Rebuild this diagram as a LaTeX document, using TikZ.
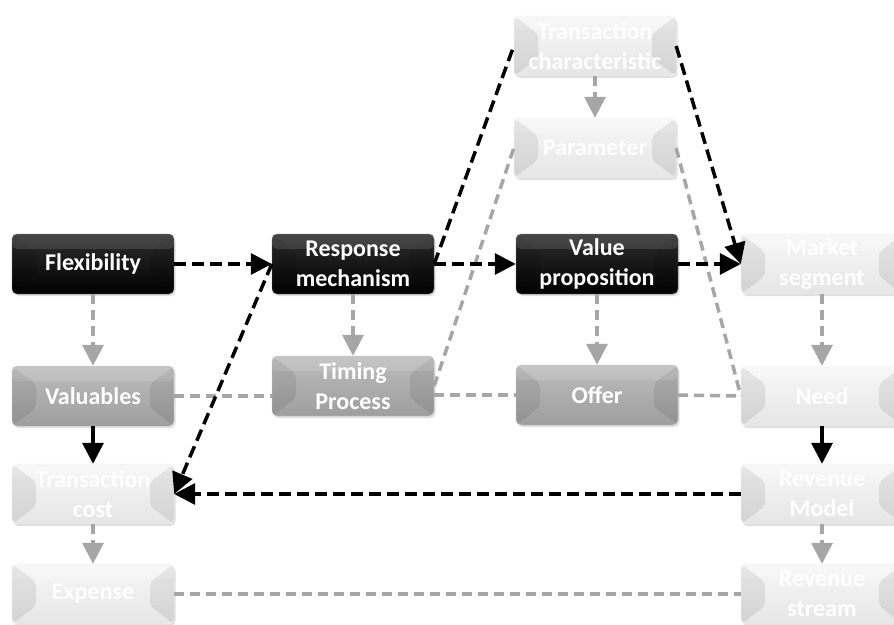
\documentclass[tikz,border=0pt]{standalone}
\usepackage{fontspec}
\setmainfont{Carlito}
\usetikzlibrary{arrows.meta,shadows}

\begin{document}
\begin{tikzpicture}[x=1pt,y=-1pt,>={Triangle[length=21pt,width=21pt]},
  box/.style={rounded corners=5pt,minimum width=162pt,minimum height=60pt,inner sep=0pt,
    align=center,text=white,font=\fontsize{24}{30}\selectfont\bfseries,
    drop shadow={opacity=0.25,shadow xshift=1.5pt,shadow yshift=-2pt},
    path picture={
      \fill[black,opacity=0.08] (path picture bounding box.north west)
        -- ([xshift=24pt,yshift=-18pt]path picture bounding box.north west)
        -- ([xshift=24pt,yshift=18pt]path picture bounding box.south west)
        -- (path picture bounding box.south west) -- cycle;
      \fill[black,opacity=0.08] (path picture bounding box.north east)
        -- ([xshift=-24pt,yshift=-18pt]path picture bounding box.north east)
        -- ([xshift=-24pt,yshift=18pt]path picture bounding box.south east)
        -- (path picture bounding box.south east) -- cycle;
      \fill[white,opacity=0.12] (path picture bounding box.north west)
        rectangle ([yshift=-15pt]path picture bounding box.north east);}},
  dark/.style={box,top color=black!82,bottom color=black,draw=black!55},
  mid/.style={box,top color=black!26,bottom color=black!38,draw=black!20},
  pale/.style={box,top color=black!3,bottom color=black!10,draw=black!5},
  blk/.style={black,line width=3.5pt,dash pattern=on 12pt off 6pt},
  gry/.style={black!35,line width=3.5pt,dash pattern=on 10pt off 6pt}]
  \clip (0,0) rectangle (894,624);
  \fill[white] (0,0) rectangle (894,624);

  % top row
  \node[pale] (tchar) at (595,46) {Transaction\\characteristic};
  \node[pale] (param) at (595,148) {Parameter};
  % main row
  \node[dark] (flex) at (93,264) {Flexibility};
  \node[dark] (resp) at (353,264) {Response\\mechanism};
  \node[dark] (vprop) at (597,264) {Value\\proposition};
  \node[pale] (mseg) at (822,264) {Market\\segment};
  % second row
  \node[mid] (valu) at (93,396) {Valuables};
  \node[mid] (timing) at (353,386) {Timing\\Process};
  \node[mid] (offer) at (597,395) {Offer};
  \node[pale] (need) at (822,396) {Need};
  % bottom rows
  \node[pale] (tcost) at (93,494) {Transaction\\cost};
  \node[pale] (rmodel) at (822,494) {Revenue\\Model};
  \node[pale] (expense) at (93,594) {Expense};
  \node[pale] (rstream) at (822,594) {Revenue\\stream};

  % grey links
  \foreach \a/\b in {flex/valu,resp/timing,vprop/offer,mseg/need,tchar/param,tcost/expense,rmodel/rstream}
    \draw[gry,->] (\a) -- (\b);
  \draw[gry] (valu.east) -- (valu.east -| timing.west);
  \draw[gry] (offer.west -| timing.east) -- (offer.west);
  \draw[gry] (offer.east) -- (need.west);
  \draw[gry] (expense.east) -- (rstream.west);
  \draw[gry] (timing.east) -- (param.west);
  \draw[gry] (param.east) -- (need.west);

  % black links
  \draw[blk,->] (flex.east) -- (resp.west);
  \draw[blk,->] (resp.east) -- (vprop.west);
  \draw[blk,->] (vprop.east) -- (mseg.west);
  \draw[blk] (resp.east) -- (tchar.west);
  \draw[blk,->] (tchar.east) -- (mseg.west);
  \draw[blk,->] (resp.west) -- (tcost.east);
  \draw[blk,->] (rmodel.west) -- (tcost.east);
  \draw[black,line width=3.5pt,->] (valu) -- (tcost);
  \draw[black,line width=3.5pt,->] (need) -- (rmodel);
\end{tikzpicture}
\end{document}
